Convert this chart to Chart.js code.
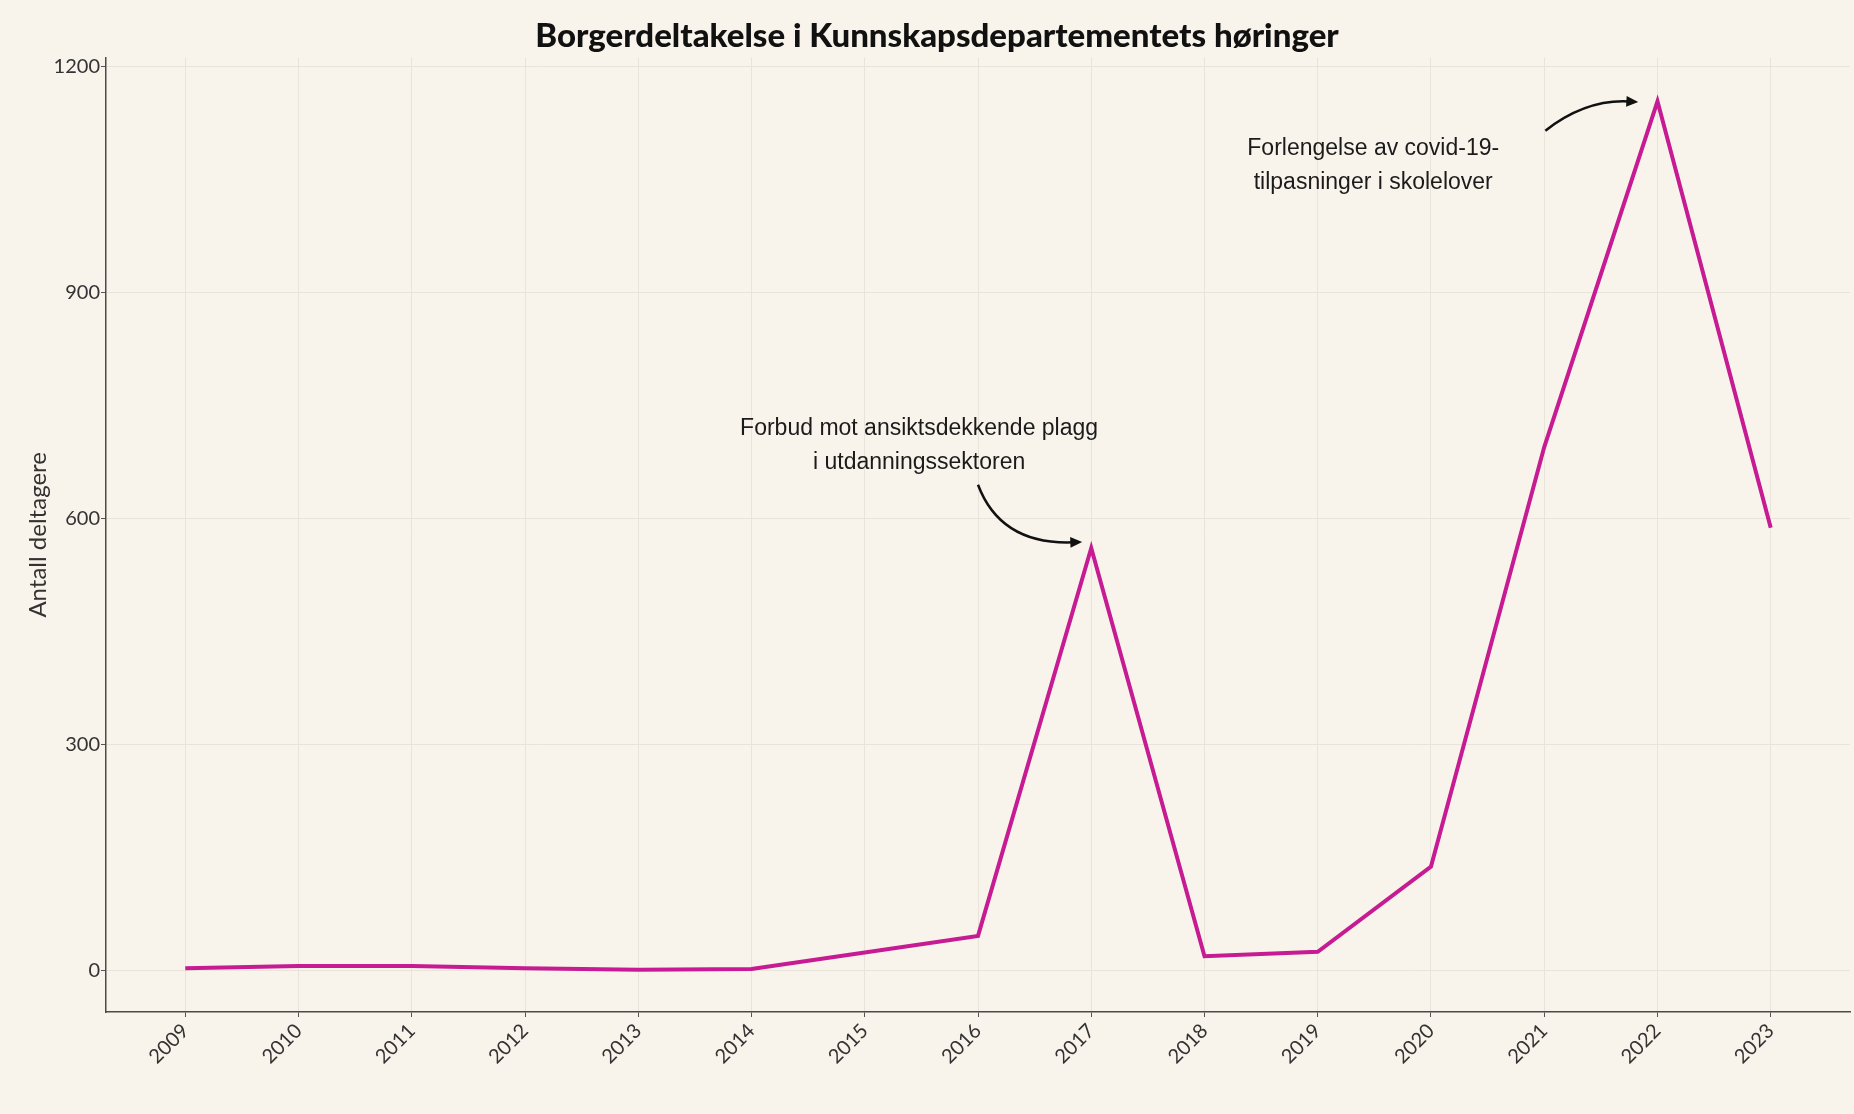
<!DOCTYPE html>
<html>
<head>
<meta charset="utf-8">
<script src="https://cdn.jsdelivr.net/npm/chart.js@4.4.1/dist/chart.umd.min.js"></script>
<style>
    html, body { margin: 0; padding: 0; background: #f9f4eb; }
    #wrap { width: 1854px; height: 1114px; }
</style>
</head>
<body>
<div id="wrap"><canvas id="chart" width="1854" height="1114"></canvas></div>
<script>
const years = [2009, 2010, 2011, 2012, 2013, 2014, 2015, 2016, 2017, 2018, 2019, 2020, 2021, 2022, 2023];
const participants = [3, 6, 6, 3, 1, 2, 24, 46, 561, 19, 25, 138, 695, 1154, 588];
const yTicks = [0, 300, 600, 900, 1200];

const chartTitle = "Borgerdeltakelse i Kunnskapsdepartementets høringer";
const yTitle = "Antall deltagere";

// annotation text + arrow, placed in data coordinates [year, value]
const notes = [
    {
        lines: ["Forbud mot ansiktsdekkende plagg", "i utdanningssektoren"],
        text: [2015.48, 720],
        from: [2016.0, 645],
        ctrl: [2016.2, 565],
        to: [2016.92, 569]
    },
    {
        lines: ["Forlengelse av covid-19-", "tilpasninger i skolelover"],
        text: [2019.49, 1091],
        from: [2021.01, 1115],
        ctrl: [2021.37, 1157],
        to: [2021.83, 1153]
    }
];

const BG = "#f9f4eb";
const TICK_FONT = { family: "Lato, 'Open Sans', sans-serif", size: 20 };

const background = {
    id: "background",
    beforeDraw(chart) {
        const ctx = chart.ctx;
        ctx.save();
        ctx.fillStyle = BG;
        ctx.fillRect(0, 0, chart.width, chart.height);
        ctx.restore();
    }
};

const annotate = {
    id: "annotate",
    afterDatasetsDraw(chart) {
        const { ctx, scales: { x, y } } = chart;
        const pt = (p) => ({ x: x.getPixelForValue(p[0]), y: y.getPixelForValue(p[1]) });
        ctx.save();
        ctx.font = "23px 'Liberation Sans', Arimo, Arial, sans-serif";
        ctx.textAlign = "center";
        ctx.textBaseline = "middle";
        notes.forEach((n) => {
            const t = pt(n.text);
            ctx.fillStyle = "#1b1b1b";
            n.lines.forEach((line, i) => ctx.fillText(line, t.x, t.y + i * 34));

            const a = pt(n.from), c = pt(n.ctrl), b = pt(n.to);
            const ang = Math.atan2(b.y - c.y, b.x - c.x);
            const headLen = 13;
            const bx = b.x - Math.cos(ang) * headLen * 0.7;
            const by = b.y - Math.sin(ang) * headLen * 0.7;
            ctx.strokeStyle = "#111";
            ctx.lineWidth = 2.5;
            ctx.beginPath();
            ctx.moveTo(a.x, a.y);
            ctx.quadraticCurveTo(c.x, c.y, bx, by);
            ctx.stroke();

            ctx.beginPath();
            ctx.moveTo(b.x, b.y);
            ctx.lineTo(b.x - headLen * Math.cos(ang - 0.42), b.y - headLen * Math.sin(ang - 0.42));
            ctx.lineTo(b.x - headLen * Math.cos(ang + 0.42), b.y - headLen * Math.sin(ang + 0.42));
            ctx.closePath();
            ctx.fillStyle = "#111";
            ctx.fill();
        });
        ctx.restore();
    }
};

new Chart(document.getElementById("chart"), {
    type: "line",
    data: {
        datasets: [{
            data: years.map((yr, i) => ({ x: yr, y: participants[i] })),
            borderColor: "#c61b92",
            borderWidth: 4,
            pointRadius: 0,
            tension: 0,
            fill: false
        }]
    },
    options: {
        responsive: false,
        animation: false,
        layout: { padding: { left: 24, right: 4, top: 0, bottom: 0 } },
        plugins: {
            legend: { display: false },
            tooltip: { enabled: false },
            title: {
                display: true,
                text: chartTitle,
                color: "#111",
                font: { family: "Lato, sans-serif", size: 33, weight: "900" },
                padding: { top: 17, bottom: 1 }
            }
        },
        scales: {
            x: {
                type: "linear",
                min: 2008.3,
                max: 2023.7,
                afterBuildTicks: (scale) => { scale.ticks = years.map((v) => ({ value: v })); },
                afterFit: (scale) => { scale.height = 102; },
                ticks: {
                    autoSkip: false,
                    minRotation: 45,
                    maxRotation: 45,
                    padding: 2,
                    color: "#333",
                    font: { ...TICK_FONT, size: 20 },
                    callback: (v) => String(v)
                },
                grid: { color: "#e9e4da", lineWidth: 1, tickColor: "#555", tickLength: 5 },
                border: { display: true, color: "#4a4a4a", width: 1.5 }
            },
            y: {
                min: -55,
                max: 1212,
                afterBuildTicks: (scale) => { scale.ticks = yTicks.map((v) => ({ value: v })); },
                afterFit: (scale) => { scale.width = 82; },
                ticks: {
                    padding: 1,
                    color: "#333",
                    font: TICK_FONT,
                    callback: (v) => String(v)
                },
                title: {
                    display: true,
                    text: yTitle,
                    color: "#333",
                    font: { family: "Lato, sans-serif", size: 24 },
                    padding: { top: 0, bottom: 0 }
                },
                grid: { color: "#e9e4da", lineWidth: 1, tickColor: "#555", tickLength: 5 },
                border: { display: true, color: "#4a4a4a", width: 1.5 }
            }
        }
    },
    plugins: [background, annotate]
});
</script>
</body>
</html>
